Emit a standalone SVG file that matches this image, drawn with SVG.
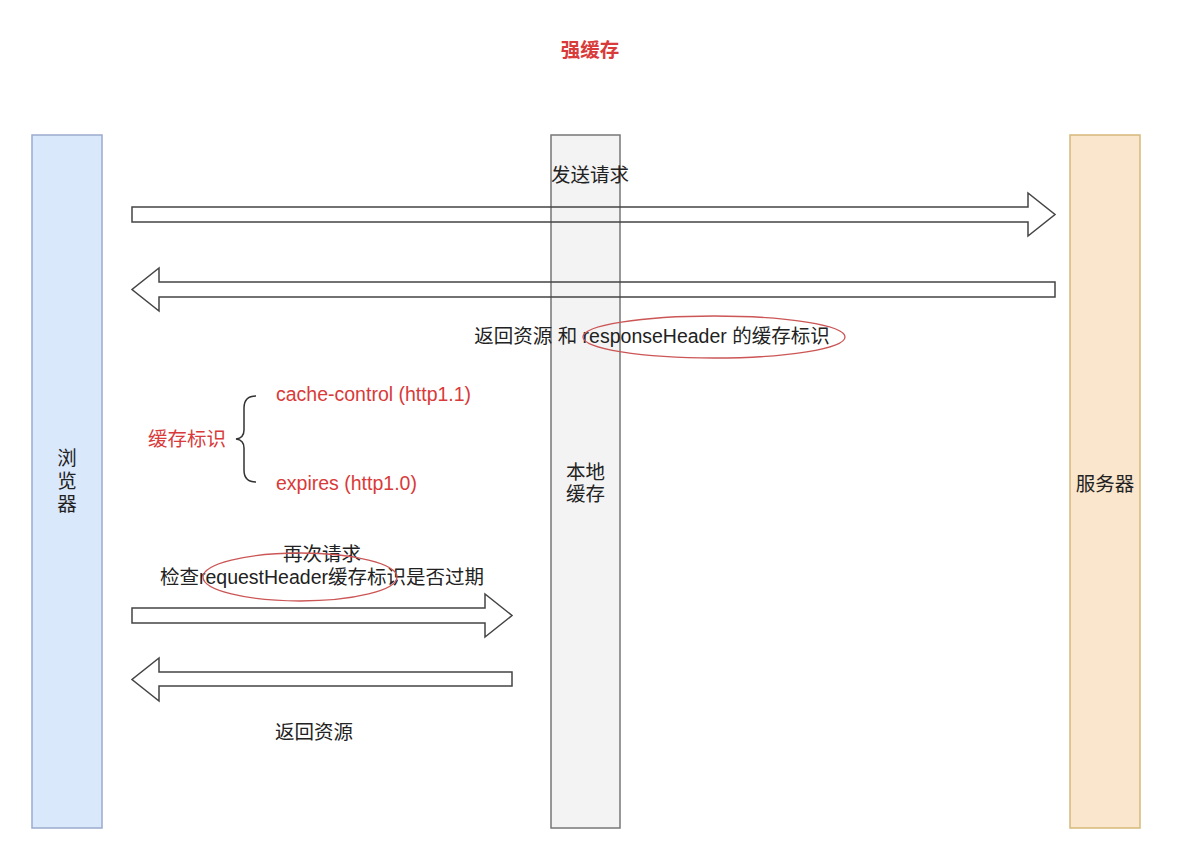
<svg xmlns="http://www.w3.org/2000/svg" width="1185" height="848" viewBox="0 0 1185 848">
<style>
text{font-family:"Liberation Sans","Noto Sans CJK SC",Arial,sans-serif;font-size:19.5px;fill:#222}
.red{fill:#d93a3a}
.arrow{fill:none;stroke:#444;stroke-width:1.5}
.oval{fill:none;stroke:#cc5555;stroke-width:1.3}
</style>
<rect width="1185" height="848" fill="#ffffff"/>
<g id="browser">
<rect x="32" y="135" width="70" height="693" fill="#dae8fc" stroke="#9aabcc" stroke-width="1.5"/>
<text x="67" y="465" text-anchor="middle">浏</text>
<text x="67" y="488" text-anchor="middle">览</text>
<text x="67" y="511" text-anchor="middle">器</text>
</g>
<g id="local-cache">
<rect x="551" y="135" width="69" height="693" fill="#f3f3f3" stroke="#777" stroke-width="1.5"/>
<text x="585.5" y="479" text-anchor="middle">本地</text>
<text x="585.5" y="501" text-anchor="middle">缓存</text>
</g>
<g id="server">
<rect x="1070" y="135" width="70" height="693" fill="#f9e6cc" stroke="#d6b87a" stroke-width="1.5"/>
<text x="1105" y="491" text-anchor="middle">服务器</text>
</g>
<g id="connectors">
<polygon class="arrow" points="132,207 1028,207 1028,193 1055,214.5 1028,236 1028,222 132,222"/>
<polygon class="arrow" points="1055,282 159,282 159,268 132,289.5 159,311 159,297 1055,297"/>
<polygon class="arrow" points="132,608 485,608 485,594 512,615.5 485,637 485,623 132,623"/>
<polygon class="arrow" points="512,672 159,672 159,658 132,679.5 159,701 159,686 512,686"/>
</g>
<g id="title">
<text x="590" y="57" text-anchor="middle" class="red" font-weight="bold" font-size="19">强缓存</text>
</g>
<g id="label-send">
<text x="590" y="182" text-anchor="middle">发送请求</text>
</g>
<g id="label-response">
<text x="652" y="343" text-anchor="middle">返回资源 和 responseHeader 的缓存标识</text>
<ellipse class="oval" cx="714" cy="337" rx="131" ry="21"/>
</g>
<g id="cache-flags">
<text x="187" y="446" text-anchor="middle" class="red">缓存标识</text>
<path d="M256,396 Q244,396 244,408 L244,430 Q244,438 236,439 Q244,440 244,448 L244,470 Q244,482 256,482" fill="none" stroke="#333" stroke-width="1.5"/>
<text x="276" y="401" class="red">cache-control (http1.1)</text>
<text x="276" y="490" class="red">expires (http1.0)</text>
</g>
<g id="label-again">
<text x="322" y="561" text-anchor="middle">再次请求</text>
<text x="322" y="584" text-anchor="middle">检查requestHeader缓存标识是否过期</text>
<ellipse class="oval" cx="300" cy="577" rx="97" ry="24"/>
</g>
<g id="label-return">
<text x="314" y="739" text-anchor="middle">返回资源</text>
</g>
</svg>
